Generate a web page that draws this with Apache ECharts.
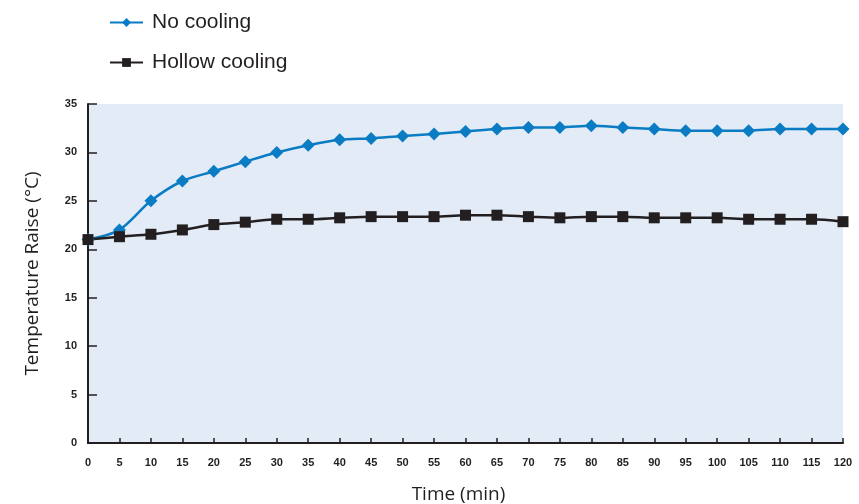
<!DOCTYPE html>
<html><head><meta charset="utf-8">
<script src="https://cdn.jsdelivr.net/npm/echarts@6/dist/echarts.min.js"></script>
<style>html,body{margin:0;padding:0;background:#fff}#c{width:859px;height:504px}</style>
</head><body><div id="c"></div>
<script>
const times = [0,5,10,15,20,25,30,35,40,45,50,55,60,65,70,75,80,85,90,95,100,105,110,115,120];
const noCooling = [21,22,25,27.05,28.05,29.05,30,30.75,31.3,31.45,31.7,31.9,32.15,32.42,32.58,32.58,32.75,32.57,32.42,32.25,32.25,32.25,32.42,32.42,32.42];
const hollowCooling = [21,21.3,21.55,22,22.55,22.8,23.1,23.1,23.25,23.37,23.37,23.37,23.52,23.52,23.37,23.25,23.37,23.37,23.25,23.25,23.25,23.1,23.1,23.1,22.85];
const seriesNames = ['No cooling','Hollow cooling'];
const chart = echarts.init(document.getElementById('c'));
chart.setOption({
  animation:false,
  legend:{
    orient:'vertical', left:104, top:7, itemGap:19, itemWidth:33, itemHeight:11,
    textStyle:{fontFamily:'Liberation Sans, Arial', fontSize:21, color:'#231f20', padding:[0,0,0,4]},
    data:seriesNames
  },
  grid:{left:88,right:16,top:104,bottom:61,show:true,backgroundColor:'#e3ebf6',borderWidth:0,outerBoundsMode:'none',containLabel:false},
  xAxis:{
    type:'value',min:0,max:120,interval:5,
    name:'Time (min)',nameLocation:'middle',nameGap:42,
    nameTextStyle:{fontFamily:'Open Sans',fontSize:19,color:'#231f20',padding:[0,14,0,0]},
    axisLine:{lineStyle:{color:'#231f20',width:2}},
    axisTick:{inside:true,length:5,lineStyle:{color:'#231f20',width:1.5}},
    axisLabel:{fontFamily:'Liberation Sans, Arial',fontWeight:'bold',fontSize:11,color:'#231f20',margin:14},
    splitLine:{show:false}
  },
  yAxis:{
    type:'value',min:0,max:35,interval:5,
    name:'Temperature Raise (°C)',nameLocation:'middle',nameGap:46,
    nameTextStyle:{fontFamily:'Open Sans',fontSize:19,color:'#231f20'},
    axisLine:{show:true,lineStyle:{color:'#231f20',width:2}},
    axisTick:{show:true,inside:true,length:9,lineStyle:{color:'#231f20',width:1.5}},
    axisLabel:{fontFamily:'Liberation Sans, Arial',fontWeight:'bold',fontSize:11,color:'#231f20',margin:11,padding:[3,0,0,0]},
    splitLine:{show:false}
  },
  series:[
    {name:seriesNames[0],type:'line',smooth:0.3,symbol:'diamond',symbolSize:13,
     data:times.map((t,i)=>[t,noCooling[i]]),
     lineStyle:{color:'#0a7cc4',width:2.5},itemStyle:{color:'#0a7cc4'}},
    {name:seriesNames[1],type:'line',smooth:0.3,symbol:'rect',symbolSize:11,
     data:times.map((t,i)=>[t,hollowCooling[i]]),
     lineStyle:{color:'#231f20',width:2.5},itemStyle:{color:'#231f20'}}
  ]
});
</script></body></html>
